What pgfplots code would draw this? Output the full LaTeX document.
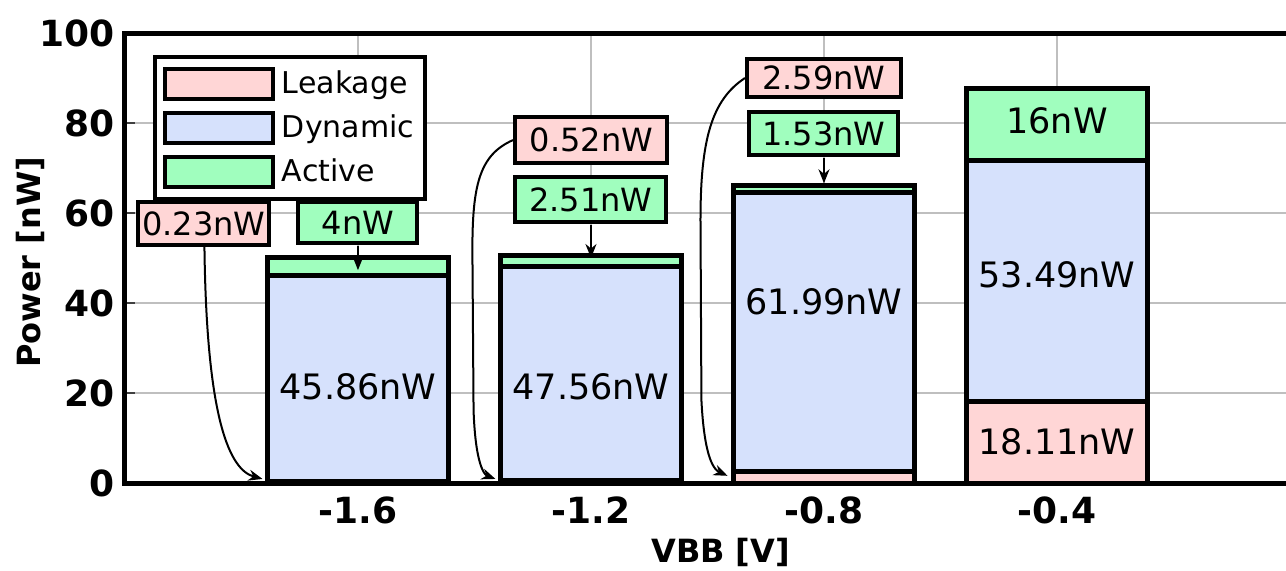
\documentclass[border=0pt]{standalone}
\usepackage{fontspec}
\setmainfont{DejaVu Sans}
\usepackage{pgfplots}
\usepackage{pgfplotstable}
\pgfplotsset{compat=1.18}
\usetikzlibrary{arrows.meta}

\definecolor{leak}{RGB}{255,214,214}
\definecolor{dyn}{RGB}{214,225,252}
\definecolor{act}{RGB}{160,254,190}

\pgfplotstableread{
x leak dyn act
0 0.23 45.86 4
1 0.52 47.56 2.51
2 2.59 61.99 1.53
3 18.11 53.49 16
}\data

\newcommand{\annotations}{%
% values inside bars
\node[val] at (axis cs:0,21.3) {45.86nW};
\node[val] at (axis cs:1,21.3) {47.56nW};
\node[val] at (axis cs:2,40.2) {61.99nW};
\node[val] at (axis cs:3,46.2) {53.49nW};
\node[val] at (axis cs:3,9.2) {18.11nW};
\node[val] at (axis cs:3,80.5) {16nW};
% boxes
\node[box, fill=leak, minimum width=65.5pt, minimum height=21.5pt] at (axis cs:-0.661,57.7) {0.23nW};
\node[box, fill=act, minimum width=59.5pt, minimum height=20.5pt] at (axis cs:0,57.9) {4nW};
\node[box, fill=leak, minimum width=76pt, minimum height=23pt] at (axis cs:1.002,76.2) {0.52nW};
\node[box, fill=act, minimum width=75.5pt, minimum height=22.5pt] at (axis cs:1,63.0) {2.51nW};
\node[box, fill=leak, minimum width=77pt, minimum height=19pt] at (axis cs:2,90.0) {2.59nW};
\node[box, fill=act, minimum width=74.5pt, minimum height=21.5pt] at (axis cs:2,77.7) {1.53nW};
% straight arrows
\draw[arr] (axis cs:0,52.7) -- (axis cs:0,47.3);
\draw[arr] (axis cs:1,57.4) -- (axis cs:1,50.0);
\draw[arr] (axis cs:2,72.2) -- (axis cs:2,66.6);
% curved arrows
\draw[arr] (axis cs:-0.659,52.4) .. controls (axis cs:-0.650,14.0) and (axis cs:-0.551,2.9) .. (axis cs:-0.410,0.9);
\draw[arr] (axis cs:0.665,76.2) .. controls (axis cs:0.521,72.9) and (axis cs:0.491,66.2) .. (axis cs:0.491,51.8)
  -- (axis cs:0.496,16.2) .. controls (axis cs:0.504,4.0) and (axis cs:0.543,1.8) .. (axis cs:0.590,0.9);
\draw[arr] (axis cs:1.661,90.0) .. controls (axis cs:1.517,85.1) and (axis cs:1.470,76.2) .. (axis cs:1.470,58.4)
  -- (axis cs:1.474,18.4) .. controls (axis cs:1.487,5.1) and (axis cs:1.530,2.9) .. (axis cs:1.586,1.6);
}

\begin{document}
\begin{tikzpicture}[
  box/.style={draw=black, line width=2pt, inner sep=0pt, font=\fontsize{16}{16}\selectfont},
  val/.style={font=\fontsize{17.5}{17.5}\selectfont},
  arr/.style={line width=1pt, -{Stealth[length=7pt,width=5.5pt]}},
]
\begin{axis}[
  scale only axis, width=580.5pt, height=225pt,
  xmin=-1, xmax=3.983, ymin=0, ymax=100,
  ybar stacked, bar width=90.5pt,
  xtick={0,1,2,3}, xticklabels={-1.6,-1.2,-0.8,-0.4},
  ytick={0,20,...,100}, ytick pos=left,
  grid=major, grid style={line width=0.9pt, color=black!25},
  axis line style={draw=none},
  xtick style={draw=none},
  ytick style={line width=1pt, color=black!75},
  tick align=inside, major tick length=5pt,
  /pgf/number format/assume math mode=true,
  ticklabel style={font=\fontsize{18}{18}\selectfont\bfseries},
  xticklabel style={anchor=center, yshift=-13.5pt},
  yticklabel style={anchor=east, inner sep=0pt, xshift=-5pt},
  xlabel={VBB [V]}, ylabel={Power [nW]},
  every axis x label/.style={at={(rel axis cs:0.513,0)}, yshift=-34.5pt, anchor=center, font=\fontsize{16}{16}\selectfont\bfseries},
  every axis y label/.style={at={(rel axis cs:0,0.49)}, xshift=-47.5pt, rotate=90, anchor=center, font=\fontsize{16}{16}\selectfont\bfseries},
  legend style={at={(rel axis cs:0,1)}, anchor=north west, xshift=14pt, yshift=-11pt,
    draw=black, line width=2pt, font=\fontsize{15}{15}\selectfont,
    row sep=5pt, inner xsep=4pt, inner ysep=5pt, cells={anchor=west}, nodes={inner sep=1.5pt}},
  legend image code/.code={\draw[#1, line width=2pt] (0pt,-7.5pt) rectangle (54pt,7.5pt);},
  after end axis/.code={
    \annotations
    \draw[line width=2.5pt, line join=miter] (rel axis cs:1,1) -- (rel axis cs:0,1) -- (rel axis cs:0,0) -- (rel axis cs:1,0);
  },
]
\addplot[fill=leak, draw=black, line width=2.5pt] table[x=x, y=leak]{\data};
\addplot[fill=dyn, draw=black, line width=2.5pt] table[x=x, y=dyn]{\data};
\addplot[fill=act, draw=black, line width=2.5pt] table[x=x, y=act]{\data};
\legend{\hspace{2pt}Leakage,\hspace{2pt}Dynamic,\hspace{2pt}Active}

\coordinate (SW) at (rel axis cs:0,0);
\coordinate (NE) at (rel axis cs:1,1);
\end{axis}
\pgfresetboundingbox
\path[use as bounding box] ([xshift=-62.5pt,yshift=-43.5pt]SW) rectangle ([yshift=16.5pt]NE);
\end{tikzpicture}
\end{document}
